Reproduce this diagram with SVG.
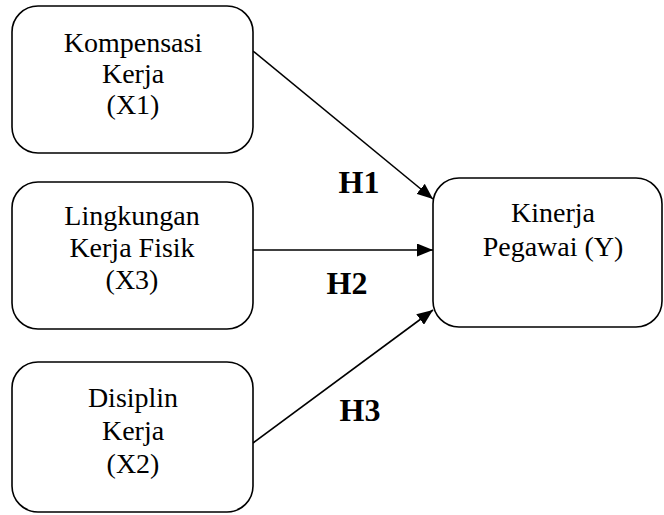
<svg xmlns="http://www.w3.org/2000/svg" width="664" height="515" viewBox="0 0 664 515">
<style>
.box{fill:#fff;stroke:#000;stroke-width:1.6}
.t{font-family:"Liberation Serif","Times New Roman",serif;font-size:28px;fill:#000;text-anchor:middle}
.h{font-family:"Liberation Serif","Times New Roman",serif;font-size:32px;font-weight:bold;fill:#000;text-anchor:middle}
.c{stroke:#000;stroke-width:1.6;fill:none}
</style>
<defs>
<marker id="ah" viewBox="0 0 16 13" refX="16" refY="6.5" markerWidth="16" markerHeight="13" markerUnits="userSpaceOnUse" orient="auto">
<path d="M0,0 L16,6.5 L0,13 z" fill="#000"/>
</marker>
</defs>
<g id="connectors">
<line class="c" x1="253" y1="51" x2="433" y2="199" marker-end="url(#ah)"/>
<line class="c" x1="253" y1="250" x2="433" y2="250" marker-end="url(#ah)"/>
<line class="c" x1="253" y1="443" x2="433" y2="310" marker-end="url(#ah)"/>
</g>
<g id="x1">
<rect class="box" x="12" y="6" width="241" height="147" rx="26"/>
<text class="t" x="133" y="52">Kompensasi</text>
<text class="t" x="133" y="83">Kerja</text>
<text class="t" x="133" y="114">(X1)</text>
</g>
<g id="x3">
<rect class="box" x="12" y="182" width="241" height="147" rx="26"/>
<text class="t" x="132" y="225">Lingkungan</text>
<text class="t" x="132" y="257">Kerja Fisik</text>
<text class="t" x="132" y="289">(X3)</text>
</g>
<g id="x2">
<rect class="box" x="12" y="362" width="241" height="150" rx="26"/>
<text class="t" x="133" y="407">Disiplin</text>
<text class="t" x="133" y="440">Kerja</text>
<text class="t" x="133" y="473">(X2)</text>
</g>
<g id="y">
<rect class="box" x="433" y="178" width="229" height="149" rx="26"/>
<text class="t" x="553" y="222">Kinerja</text>
<text class="t" x="553" y="256">Pegawai (Y)</text>
</g>
<g id="labels">
<text class="h" x="359" y="193">H1</text>
<text class="h" x="347" y="294">H2</text>
<text class="h" x="360" y="421">H3</text>
</g>
</svg>
